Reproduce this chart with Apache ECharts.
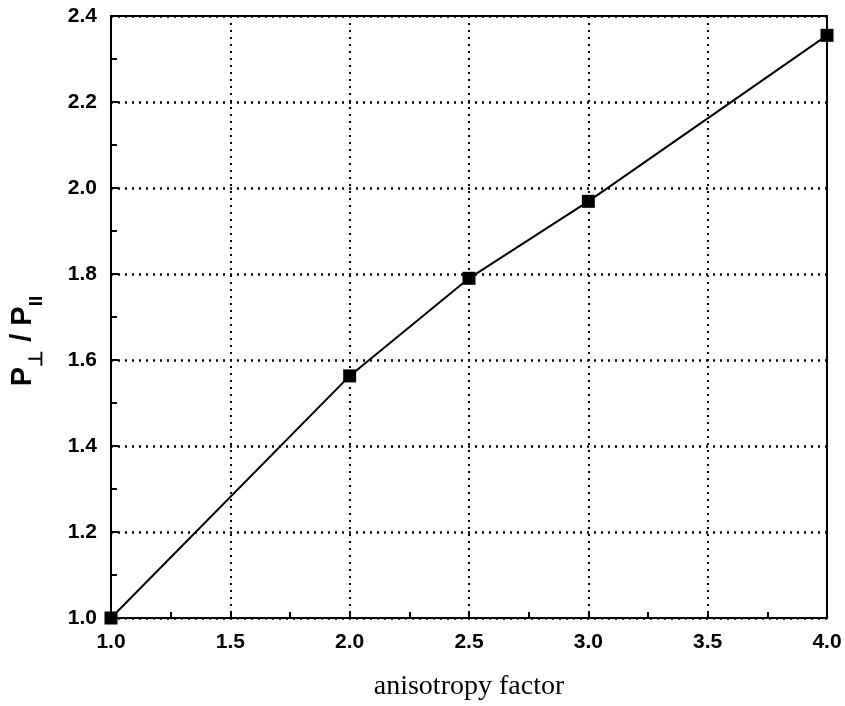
<!DOCTYPE html>
<html><head><meta charset="utf-8">
<script src="https://cdn.jsdelivr.net/npm/echarts@6/dist/echarts.min.js"></script>
<style>html,body{margin:0;padding:0;background:#fff}#c{width:845px;height:706px}</style>
</head><body><div id="c"></div>
<script>
const xValues = [1.0, 2.0, 2.5, 3.0, 4.0];
const yValues = [1.0, 1.563, 1.79, 1.969, 2.355];
const xTicks = [1.0, 1.5, 2.0, 2.5, 3.0, 3.5, 4.0];
const yTicks = [1.0, 1.2, 1.4, 1.6, 1.8, 2.0, 2.2, 2.4];
const xName = 'anisotropy factor';

const chart = echarts.init(document.getElementById('c'), null, {renderer: 'canvas'});
const labelFont = {color: '#000', fontFamily: 'Liberation Sans, Arial', fontWeight: 'bold', fontSize: 21};
chart.setOption({
  animation: false,
  backgroundColor: '#fff',
  grid: {left: 111, right: 18, top: 16, bottom: 84, show: true, borderColor: '#000', borderWidth: 2, backgroundColor: 'transparent'},
  xAxis: {
    type: 'value', min: xTicks[0], max: xTicks[xTicks.length - 1], interval: 0.5,
    name: xName, nameLocation: 'middle', nameGap: 55,
    nameTextStyle: {color: '#000', fontFamily: 'Liberation Serif, Times New Roman', fontSize: 28},
    axisLine: {show: true, lineStyle: {color: '#000', width: 2}},
    axisTick: {show: true, inside: true, length: 7, lineStyle: {color: '#000', width: 2}},
    minorTick: {show: true, splitNumber: 2, length: 6, lineStyle: {color: '#000', width: 2}},
    axisLabel: Object.assign({margin: 14, formatter: v => v.toFixed(1)}, labelFont),
    splitLine: {show: true, lineStyle: {color: '#000', type: [2, 5], width: 2}}
  },
  yAxis: {
    type: 'value', min: yTicks[0], max: yTicks[yTicks.length - 1], interval: 0.2,
    name: '{p|P}{s|⊥}{p| / P}{s|II}', nameLocation: 'middle', nameGap: 74, nameRotate: 90,
    nameTextStyle: {padding: [0, 48, 0, 0], rich: {
      p: {color: '#000', fontFamily: 'Liberation Sans, Arial', fontWeight: 'bold', fontSize: 29},
      s: {color: '#000', fontFamily: 'Liberation Sans, Arial', fontWeight: 'bold', fontSize: 19, verticalAlign: 'bottom', padding: [0, 0, -9, 0]}
    }},
    axisLine: {show: true, lineStyle: {color: '#000', width: 2}},
    axisTick: {show: true, inside: true, length: 7, lineStyle: {color: '#000', width: 2}},
    minorTick: {show: true, splitNumber: 2, length: 6, lineStyle: {color: '#000', width: 2}},
    axisLabel: Object.assign({margin: 14, formatter: v => v.toFixed(1)}, labelFont),
    splitLine: {show: true, lineStyle: {color: '#000', type: [2, 5], width: 2.5}}
  },
  series: [{
    type: 'line',
    data: xValues.map((x, i) => [x, yValues[i]]),
    symbol: 'rect', symbolSize: 13, clip: false,
    lineStyle: {color: '#000', width: 2},
    itemStyle: {color: '#000'}
  }]
});
</script></body></html>
